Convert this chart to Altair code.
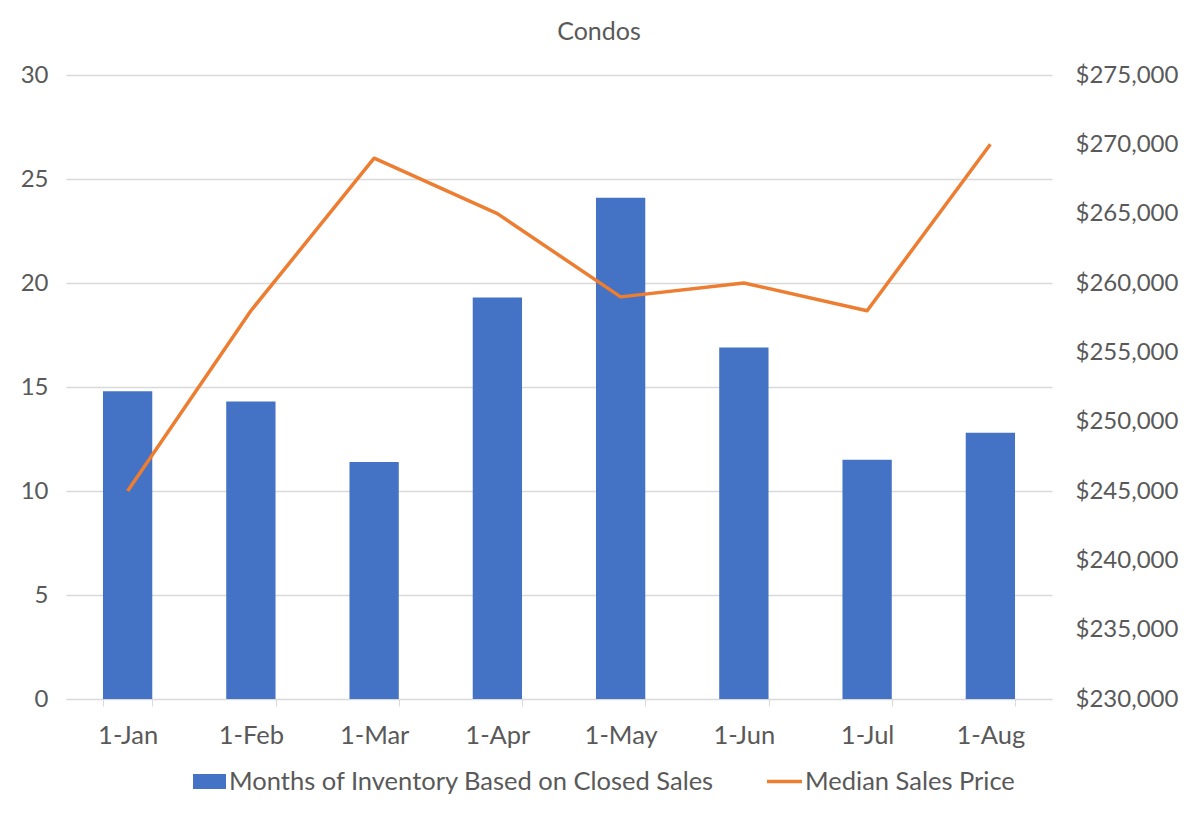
import altair as alt
import pandas as pd

months = ["1-Jan", "1-Feb", "1-Mar", "1-Apr", "1-May", "1-Jun", "1-Jul", "1-Aug"]
inventory = [14.8, 14.3, 11.4, 19.3, 24.1, 16.9, 11.5, 12.8]
median_price = [245000, 258000, 269000, 265000, 259000, 260000, 258000, 270000]

bar_name = "Months of Inventory Based on Closed Sales"
line_name = "Median Sales Price"
left_ticks = [0, 5, 10, 15, 20, 25, 30]
right_ticks = [230000, 235000, 240000, 245000, 250000, 255000, 260000, 265000, 270000, 275000]

df = pd.DataFrame({
    "month": months,
    "inventory": inventory,
    "price": median_price,
    "bar_series": [bar_name] * len(months),
    "line_series": [line_name] * len(months),
})

FONT = "Lato"
TXT = "#595959"
GRID = "#D9D9D9"

x_enc = alt.X(
    "month:N",
    sort=months,
    title=None,
    scale=alt.Scale(paddingInner=0.6, paddingOuter=0.3),
    axis=alt.Axis(
        labelAngle=0,
        tickBand="extent",
        tickSize=7,
        tickColor=GRID,
        domainColor=GRID,
        labelPadding=17,
        labelFontSize=25.5,
        grid=False,
    ),
)

base = alt.Chart(df)

bars = base.mark_bar().encode(
    x=x_enc,
    y=alt.Y(
        "inventory:Q",
        title=None,
        scale=alt.Scale(domain=[0, 30], nice=False),
        axis=alt.Axis(
            orient="left",
            values=left_ticks,
            domain=False,
            ticks=False,
            labelPadding=18,
            grid=True,
            gridColor=GRID,
            gridWidth=1.3,
        ),
    ),
    color=alt.Color(
        "bar_series:N",
        scale=alt.Scale(range=["#4472C4"]),
        legend=alt.Legend(
            title=None,
            orient="none",
            legendX=127,
            legendY=690,
            symbolType="M-1,-0.45H1V0.45H-1Z",
            symbolSize=1089,
            symbolStrokeWidth=0,
            labelOffset=3,
            padding=0,
        ),
    ),
)

line = base.mark_line(strokeWidth=3.5, strokeJoin="round").encode(
    x=x_enc,
    y=alt.Y(
        "price:Q",
        title=None,
        scale=alt.Scale(domain=[230000, 275000], nice=False, zero=False),
        axis=alt.Axis(
            orient="right",
            values=right_ticks,
            format="$,.0f",
            domain=False,
            ticks=False,
            labelPadding=23,
            grid=False,
        ),
    ),
    color=alt.Color(
        "line_series:N",
        scale=alt.Scale(range=["#ED7D31"]),
        legend=alt.Legend(
            title=None,
            orient="none",
            legendX=699,
            legendY=687,
            symbolType="stroke",
            symbolSize=1225,
            symbolStrokeWidth=3.5,
            labelOffset=1,
            padding=0,
        ),
    ),
)

chart = (
    alt.layer(bars, line)
    .resolve_scale(y="independent", color="independent")
    .resolve_legend(color="independent")
    .properties(
        width=986,
        height=624,
        title=alt.TitleParams(
            "Condos",
            font=FONT,
            fontSize=25,
            fontWeight="normal",
            color=TXT,
            offset=18,
            dx=40,
        ),
        padding={"left": 58, "top": 67, "right": 140, "bottom": 110},
        autosize="none",
        background="white",
    )
    .configure_view(stroke=None)
    .configure_axis(
        labelFont=FONT,
        labelFontSize=24,
        labelColor=TXT,
    )
    .configure_legend(
        labelFont=FONT,
        labelFontSize=25.5,
        labelColor=TXT,
        labelLimit=800,
    )
)

chart.save("out.html", embed_options={"renderer": "svg", "actions": False})
